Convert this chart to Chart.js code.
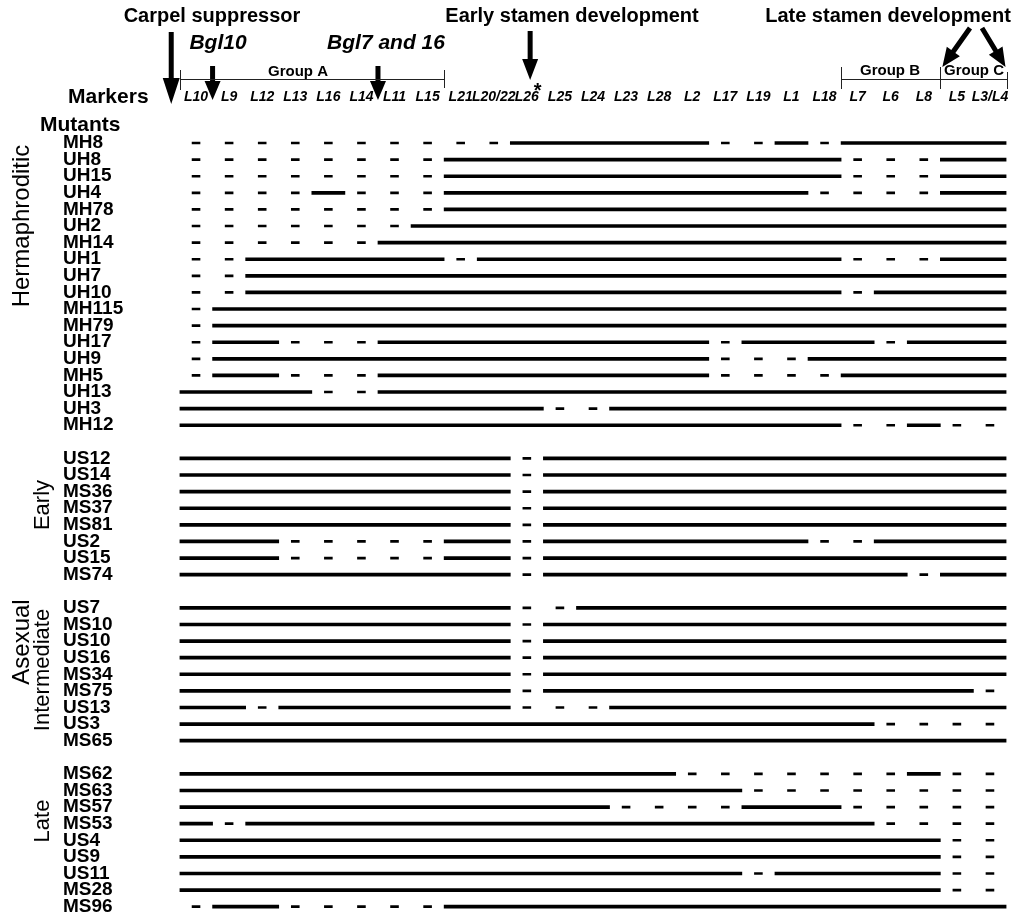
<!DOCTYPE html>
<html>
<head>
<meta charset="utf-8">
<script src="https://cdn.jsdelivr.net/npm/chart.js@4/dist/chart.umd.min.js"></script>
<style>
html,body{margin:0;padding:0;background:#fff;}
canvas{display:block;}
</style>
</head>
<body>
<canvas id="c" width="1028" height="919" style="width:1028px;height:919px"></canvas>
<script>
// ---- DATA ----
const markers = ['L10','L9','L12','L13','L16','L14','L11','L15','L21','L20/22','L26','L25','L24','L23','L28','L2','L17','L19','L1','L18','L7','L6','L8','L5','L3/L4'];

// 'x' = marker present (solid line), '-' = marker absent (dash)
const hermMutants = ['MH8','UH8','UH15','UH4','MH78','UH2','MH14','UH1','UH7','UH10','MH115','MH79','UH17','UH9','MH5','UH13','UH3','MH12'];
const hermMaps = [
  '----------xxxxxx--x-xxxxx',
  '--------xxxxxxxxxxxx---xx',
  '--------xxxxxxxxxxxx---xx',
  '----x---xxxxxxxxxxx----xx',
  '--------xxxxxxxxxxxxxxxxx',
  '-------xxxxxxxxxxxxxxxxxx',
  '------xxxxxxxxxxxxxxxxxxx',
  '--xxxxxx-xxxxxxxxxxx---xx',
  '--xxxxxxxxxxxxxxxxxxxxxxx',
  '--xxxxxxxxxxxxxxxxxx-xxxx',
  '-xxxxxxxxxxxxxxxxxxxxxxxx',
  '-xxxxxxxxxxxxxxxxxxxxxxxx',
  '-xx---xxxxxxxxxx-xxxx-xxx',
  '-xxxxxxxxxxxxxxx---xxxxxx',
  '-xx---xxxxxxxxxx----xxxxx',
  'xxxx--xxxxxxxxxxxxxxxxxxx',
  'xxxxxxxxxxx--xxxxxxxxxxxx',
  'xxxxxxxxxxxxxxxxxxxx--x--'
];
const earlyMutants = ['US12','US14','MS36','MS37','MS81','US2','US15','MS74'];
const earlyMaps = [
  'xxxxxxxxxx-xxxxxxxxxxxxxx',
  'xxxxxxxxxx-xxxxxxxxxxxxxx',
  'xxxxxxxxxx-xxxxxxxxxxxxxx',
  'xxxxxxxxxx-xxxxxxxxxxxxxx',
  'xxxxxxxxxx-xxxxxxxxxxxxxx',
  'xxx-----xx-xxxxxxxx--xxxx',
  'xxx-----xx-xxxxxxxxxxxxxx',
  'xxxxxxxxxx-xxxxxxxxxxx-xx'
];
const interMutants = ['US7','MS10','US10','US16','MS34','MS75','US13','US3','MS65'];
const interMaps = [
  'xxxxxxxxxx--xxxxxxxxxxxxx',
  'xxxxxxxxxx-xxxxxxxxxxxxxx',
  'xxxxxxxxxx-xxxxxxxxxxxxxx',
  'xxxxxxxxxx-xxxxxxxxxxxxxx',
  'xxxxxxxxxx-xxxxxxxxxxxxxx',
  'xxxxxxxxxx-xxxxxxxxxxxxx-',
  'xx-xxxxxxx---xxxxxxxxxxxx',
  'xxxxxxxxxxxxxxxxxxxxx----',
  'xxxxxxxxxxxxxxxxxxxxxxxxx'
];
const lateMutants = ['MS62','MS63','MS57','MS53','US4','US9','US11','MS28','MS96'];
const lateMaps = [
  'xxxxxxxxxxxxxxx-------x--',
  'xxxxxxxxxxxxxxxxx--------',
  'xxxxxxxxxxxxx----xxx-----',
  'x-xxxxxxxxxxxxxxxxxxx----',
  'xxxxxxxxxxxxxxxxxxxxxxx--',
  'xxxxxxxxxxxxxxxxxxxxxxx--',
  'xxxxxxxxxxxxxxxxx-xxxxx--',
  'xxxxxxxxxxxxxxxxxxxxxxx--',
  '-xx-----xxxxxxxxxxxxxxxxx'
];

// ---- BUILD ROWS ----
const rows = [];
function addGroup(names, maps){ names.forEach((n,k)=>rows.push({name:n,map:maps[k]})); }
addGroup(hermMutants, hermMaps); rows.push(null);
addGroup(earlyMutants, earlyMaps); rows.push(null);
addGroup(interMutants, interMaps); rows.push(null);
addGroup(lateMutants, lateMaps);

const present = [], absent = [];
rows.forEach((row, r) => {
  if (!row) return;
  const m = row.map;
  let i = 0;
  while (i < m.length) {
    if (m[i] === 'x') {
      let j = i;
      while (j + 1 < m.length && m[j+1] === 'x') j++;
      present.push({x:[i-0.5, j+0.5], y:r});
      i = j + 1;
    } else {
      if (m[i] === '-') absent.push({x:[i-0.12, i+0.12], y:r});
      i++;
    }
  }
});

const FF = "'Liberation Sans', Arial, Helvetica, sans-serif";
Chart.defaults.font.family = FF;
Chart.defaults.color = '#000';

function arrow(ctx, x1, y1, x2, y2, shaft, headW, headL) {
  const dx = x2 - x1, dy = y2 - y1, len = Math.hypot(dx, dy);
  const ux = dx/len, uy = dy/len, px = -uy, py = ux;
  const bx = x2 - ux*headL, by = y2 - uy*headL;
  ctx.beginPath();
  ctx.moveTo(x1 + px*shaft/2, y1 + py*shaft/2);
  ctx.lineTo(bx + px*shaft/2, by + py*shaft/2);
  ctx.lineTo(bx + px*headW/2, by + py*headW/2);
  ctx.lineTo(x2, y2);
  ctx.lineTo(bx - px*headW/2, by - py*headW/2);
  ctx.lineTo(bx - px*shaft/2, by - py*shaft/2);
  ctx.lineTo(x1 - px*shaft/2, y1 - py*shaft/2);
  ctx.closePath();
  ctx.fill();
}

const annot = {
  id: 'annot',
  afterDraw(chart) {
    const ctx = chart.ctx, xs = chart.scales.x;
    ctx.save();
    ctx.fillStyle = '#000';
    ctx.strokeStyle = '#000';
    ctx.textBaseline = 'middle';
    ctx.textAlign = 'center';
    ctx.font = 'bold 20px ' + FF;
    ctx.fillText('Carpel suppressor', 212, 16);
    ctx.fillText('Early stamen development', 572, 16);
    ctx.fillText('Late stamen development', 888, 16);
    ctx.font = 'italic bold 21px ' + FF;
    ctx.fillText('Bgl10', 218, 43);
    ctx.fillText('Bgl7 and 16', 386, 43);

    // arrows
    arrow(ctx, xs.getPixelForValue(-0.75), 32, xs.getPixelForValue(-0.75), 104, 5, 17, 26);
    arrow(ctx, xs.getPixelForValue(0.5), 66, xs.getPixelForValue(0.5), 100, 5, 16, 19);
    arrow(ctx, xs.getPixelForValue(5.5), 66, xs.getPixelForValue(5.5), 100, 5, 16, 19);
    arrow(ctx, xs.getPixelForValue(10.1), 31, xs.getPixelForValue(10.1), 80, 5, 16, 21);
    arrow(ctx, 970, 28, xs.getPixelForValue(22.5) + 2, 67, 5, 16, 19);
    arrow(ctx, 982, 28, xs.getPixelForValue(24.5) - 1, 67, 5, 16, 19);

    // group brackets
    ctx.lineWidth = 1;
    ctx.strokeStyle = '#222';
    const gy = 79.5;
    function bracket(a, b, t1, t2) {
      const xa = Math.round(xs.getPixelForValue(a)) + 0.5, xb = Math.round(xs.getPixelForValue(b)) + 0.5;
      ctx.beginPath();
      ctx.moveTo(xa, gy); ctx.lineTo(xb, gy);
      ctx.moveTo(xa, t1[0]); ctx.lineTo(xa, t1[1]);
      ctx.moveTo(xb, t2[0]); ctx.lineTo(xb, t2[1]);
      ctx.stroke();
    }
    bracket(-0.5, 7.5, [70, 90], [70, 88]);
    bracket(19.5, 22.5, [67, 89], [67, 89]);
    bracket(22.5, 24.5, [67, 89], [72, 89]);
    ctx.font = 'bold 15px ' + FF;
    ctx.fillText('Group A', 298, 72);
    ctx.fillText('Group B', 890, 71);
    ctx.fillText('Group C', 974, 71);
    ctx.font = 'bold 20px ' + FF;
    ctx.fillText('*', xs.getPixelForValue(10.33), 91);

    // left labels
    ctx.textAlign = 'left';
    ctx.font = 'bold 21px ' + FF;
    ctx.fillText('Markers', 68, 97);
    ctx.fillText('Mutants', 40, 125);

    function vtext(t, x, y, font) {
      ctx.save();
      ctx.translate(x, y);
      ctx.rotate(-Math.PI/2);
      ctx.textAlign = 'center';
      ctx.textBaseline = 'middle';
      ctx.font = font;
      ctx.fillText(t, 0, 0);
      ctx.restore();
    }
    vtext('Hermaphroditic', 22, 226, '24px ' + FF);
    vtext('Early', 43, 505, '22px ' + FF);
    vtext('Asexual', 22, 642, '24px ' + FF);
    vtext('Intermediate', 43, 670, '22px ' + FF);
    vtext('Late', 43, 821, '22px ' + FF);
    ctx.restore();
  }
};

function noPad(s) { s.paddingLeft = 0; s.paddingRight = 0; s.paddingTop = 0; s.paddingBottom = 0; }

new Chart(document.getElementById('c').getContext('2d'), {
  type: 'bar',
  data: {
    datasets: [
      {label:'present', data: present, backgroundColor:'#000', borderWidth:0, barThickness:3, grouped:false},
      {label:'absent', data: absent, backgroundColor:'#000', borderWidth:0, barThickness:2, grouped:false}
    ]
  },
  options: {
    indexAxis: 'y',
    responsive: false,
    animation: false,
    devicePixelRatio: 1,
    layout: {padding: {top: 90, left: 63, right: 21.5, bottom: 4}},
    plugins: {legend: {display:false}, tooltip: {enabled:false}, title:{display:false}},
    scales: {
      x: {
        type: 'linear', position: 'top', min: -0.5, max: 24.5, offset: false,
        grid: {display:false, drawTicks:false}, border: {display:false},
        afterBuildTicks: s => { s.ticks = markers.map((_, i) => ({value: i})); },
        afterFit: s => { s.height = 44.7; noPad(s); },
        ticks: {
          autoSkip: false, maxRotation: 0, minRotation: 0, padding: 29.3, color:'#000',
          font: {size: 14, style: 'italic', weight: 'bold'},
          callback: v => markers[v] ?? ''
        }
      },
      y: {
        type: 'linear', reverse: true, min: -0.5, max: rows.length - 0.5, offset: false,
        grid: {display:false, drawTicks:false}, border: {display:false},
        afterBuildTicks: s => { s.ticks = rows.map((r, i) => r ? {value: i} : null).filter(Boolean); },
        afterFit: s => { s.width = 116.5; noPad(s); },
        ticks: {
          autoSkip: false, crossAlign: 'far', padding: 0, color:'#000',
          font: {size: 19, weight: 'bold'},
          callback: v => (rows[v] ? rows[v].name : '')
        }
      }
    }
  },
  plugins: [annot]
});
</script>
</body>
</html>
